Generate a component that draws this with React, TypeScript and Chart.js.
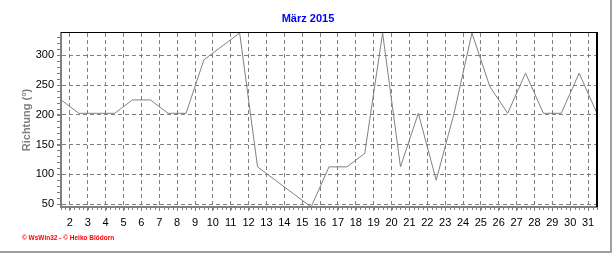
import React, { useEffect, useRef } from "react";
import { Chart, registerables } from "chart.js";

Chart.register(...registerables);

const TITLE = "März 2015";
const Y_TITLE = "Richtung (°)";
const FOOTER = "© WsWin32 - © Heiko Blödorn";

const days = [
  1, 2, 3, 4, 5, 6, 7, 8, 9, 10, 11, 12, 13, 14, 15, 16,
  17, 18, 19, 20, 21, 22, 23, 24, 25, 26, 27, 28, 29, 30, 31,
];
const direction = [
  225, 202.5, 202.5, 202.5, 225, 225, 202.5, 202.5, 292.5, 315, 337.5,
  112.5, 90, 67.5, 45, 112.5, 112.5, 135, 337.5, 112.5, 202.5, 90,
  202.5, 337.5, 247.5, 202.5, 270, 202.5, 202.5, 270, 202.5,
];
const xTickValues = [
  2, 3, 4, 5, 6, 7, 8, 9, 10, 11, 12, 13, 14, 15, 16, 17,
  18, 19, 20, 21, 22, 23, 24, 25, 26, 27, 28, 29, 30, 31,
];
const yTickValues = [50, 100, 150, 200, 250, 300];

const Y_MIN = 45;
const Y_MAX = 337.5;
const X_MIN = 1.5;
const X_MAX = 31.5;
const DAY_CENTER = 0.5; // each day's value is plotted at the middle of the day

const FONT = "'Liberation Sans', Arial, sans-serif";
const GRAY = "#808080";

const framePlugin = {
  id: "frameDecor",
  afterDraw(chart: any) {
    const { ctx, chartArea: a, scales } = chart;
    ctx.save();
    // top & right black border of plot area
    ctx.fillStyle = "#000000";
    ctx.fillRect(a.left, a.top - 1, a.right - a.left + 1, 1);
    ctx.fillRect(a.right - 1, a.top - 1, 2, a.bottom - a.top + 1);
    // minor ticks
    ctx.strokeStyle = GRAY;
    ctx.lineWidth = 1;
    ctx.beginPath();
    const ys = scales.y;
    for (let v = 50; v <= Y_MAX; v += 10) {
      const py = Math.round(ys.getPixelForValue(v)) + 0.5;
      ctx.moveTo(a.left - 4, py);
      ctx.lineTo(a.left - 1, py);
    }
    const xs = scales.x;
    for (let v = X_MIN; v <= X_MAX + 1e-9; v += 0.25) {
      const px = Math.round(xs.getPixelForValue(v)) + 0.5;
      ctx.moveTo(px, a.bottom + 1);
      ctx.lineTo(px, a.bottom + 3);
    }
    ctx.stroke();
    // outer frame (right and bottom)
    ctx.fillStyle = "#a0a0a0";
    ctx.fillRect(chart.width - 6, 0, 2, chart.height);
    ctx.fillRect(0, chart.height - 2, chart.width - 4, 2);
    // footer
    ctx.fillStyle = "#ff0000";
    ctx.font = `bold 6.5px ${FONT}`;
    ctx.textBaseline = "middle";
    ctx.textAlign = "left";
    ctx.fillText(FOOTER, 22, 238);
    ctx.restore();
  },
};

export default function App() {
  const ref = useRef<HTMLCanvasElement | null>(null);

  useEffect(() => {
    if (!ref.current) return;
    const chart = new Chart(ref.current, {
      type: "line",
      data: {
        datasets: [
          {
            data: days.map((d, i) => ({ x: d + DAY_CENTER, y: direction[i] })),
            borderColor: GRAY,
            borderWidth: 1,
            pointRadius: 0,
            tension: 0,
            fill: false,
          },
        ],
      },
      options: {
        responsive: false,
        animation: false,
        devicePixelRatio: 1,
        layout: { padding: 0 },
        plugins: {
          legend: { display: false },
          tooltip: { enabled: false },
          title: {
            display: true,
            text: TITLE,
            color: "#0000ff",
            font: { family: FONT, size: 11, weight: "bold" },
            padding: { top: 12.4, bottom: 7.4 },
          },
        },
        scales: {
          x: {
            type: "linear",
            min: X_MIN,
            max: X_MAX,
            afterBuildTicks: (axis: any) => {
              axis.ticks = xTickValues.map((v) => ({ value: v }));
            },
            afterFit: (s: any) => {
              s.height = 46;
            },
            ticks: {
              autoSkip: false,
              maxRotation: 0,
              color: "#000000",
              font: { family: FONT, size: 11 },
              padding: 5,
              callback: (v: any) => String(v),
            },
            grid: { color: GRAY, lineWidth: 1, tickLength: 4, tickColor: GRAY },
            border: { display: true, color: GRAY, width: 2, dash: [4, 3] },
          },
          y: {
            type: "linear",
            min: Y_MIN,
            max: Y_MAX,
            afterBuildTicks: (axis: any) => {
              axis.ticks = yTickValues.map((v) => ({ value: v }));
            },
            afterFit: (s: any) => {
              s.width = 61;
            },
            title: {
              display: true,
              text: Y_TITLE,
              color: GRAY,
              font: { family: FONT, size: 11, weight: "bold" },
              padding: { top: 20, bottom: 0 },
            },
            ticks: {
              color: "#000000",
              font: { family: FONT, size: 11 },
              padding: 3,
              callback: (v: any) => String(v),
            },
            grid: { color: GRAY, lineWidth: 1, tickLength: 4, tickColor: GRAY },
            border: { display: true, color: GRAY, width: 2, dash: [4, 3] },
          },
          yRight: {
            type: "linear",
            position: "right",
            min: Y_MIN,
            max: Y_MAX,
            display: true,
            afterFit: (s: any) => {
              s.width = 19;
            },
            ticks: { display: false },
            grid: { display: false, drawTicks: false },
            border: { display: false },
          },
        },
      },
      plugins: [framePlugin],
    });
    return () => chart.destroy();
  }, []);

  return (
    <div style={{ position: "fixed", left: 0, top: 0, width: 616, height: 253, background: "#ffffff" }}>
      <canvas ref={ref} width={616} height={253} style={{ display: "block" }} />
    </div>
  );
}
